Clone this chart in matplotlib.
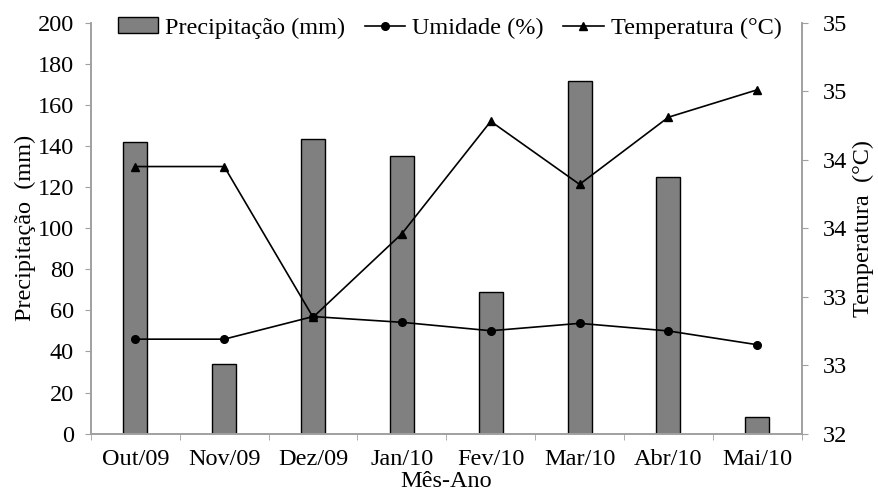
import matplotlib.pyplot as plt
import numpy as np

plt.rcParams['font.family'] = ['Liberation Serif', 'DejaVu Serif']

meses = ["Out/09", "Nov/09", "Dez/09", "Jan/10", "Fev/10", "Mar/10", "Abr/10", "Mai/10"]
precipitacao = [141.8, 33.9, 143.3, 135.3, 69.1, 171.8, 124.8, 8.3]
umidade = [46, 46, 57, 54.2, 50.1, 53.7, 50, 43.3]
temperatura = [33.95, 33.95, 32.85, 33.46, 34.28, 33.82, 34.31, 34.51]
temp_ticks = [32, 32.5, 33, 33.5, 34, 34.5, 35]
temp_labels = ["32", "33", "33", "34", "34", "35", "35"]

cinza = "#a0a0a0"
fs = 17.5

fig = plt.figure(figsize=(8.79, 4.91), dpi=100)
ax = fig.add_axes([0.1035, 0.1167, 0.8085, 0.8371])
ax2 = ax.twinx()

x = np.arange(len(meses))
barras = ax.bar(x, precipitacao, width=0.27, color="#808080", edgecolor="black",
                linewidth=1.0, label="Precipitação (mm)", zorder=2)
l_umid, = ax.plot(x, umidade, color="black", lw=1.2, marker="o", ms=5.5,
                  label="Umidade (%)", zorder=3)
l_temp, = ax2.plot(x, temperatura, color="black", lw=1.2, marker="^", ms=5.5,
                   label="Temperatura (°C)")

ax.set_xlim(-0.5, len(meses) - 0.5)
ax.set_ylim(0, 200)
ax.set_yticks(np.arange(0, 201, 20))
ax2.set_ylim(32, 35)
ax2.set_yticks(temp_ticks)
ax2.set_yticklabels(temp_labels)

ax.set_xticks(x)
ax.set_xticklabels(meses)
ax.set_xticks(np.arange(-0.5, len(meses), 1), minor=True)
ax.tick_params(axis="x", which="major", length=0, labelsize=fs, pad=11)
ax.tick_params(axis="x", which="minor", length=4.3, color=cinza, direction="out")
ax.tick_params(axis="y", length=4.3, color=cinza, labelsize=fs, pad=8)
ax2.tick_params(axis="y", length=4.3, color=cinza, labelsize=fs, pad=11)

for a in (ax, ax2):
    a.spines["top"].set_visible(False)
    for s in ("left", "right", "bottom"):
        a.spines[s].set_color(cinza)
        a.spines[s].set_linewidth(1.2)

ax.set_xlabel("Mês-Ano", fontsize=fs, labelpad=0.5)
ax.set_ylabel("Precipitação  (mm)", fontsize=fs, labelpad=1)
ax2.set_ylabel("Temperatura  (°C)", fontsize=fs, labelpad=4)

ax2.legend(handles=[barras, l_umid, l_temp], loc="center",
           bbox_to_anchor=(0.505, 0.987), ncol=3, frameon=False, fontsize=fs,
           handlelength=1.65, handleheight=0.6, handletextpad=0.3,
           columnspacing=0.8, borderpad=0, borderaxespad=0)

fig.savefig("out.png", dpi=100)
